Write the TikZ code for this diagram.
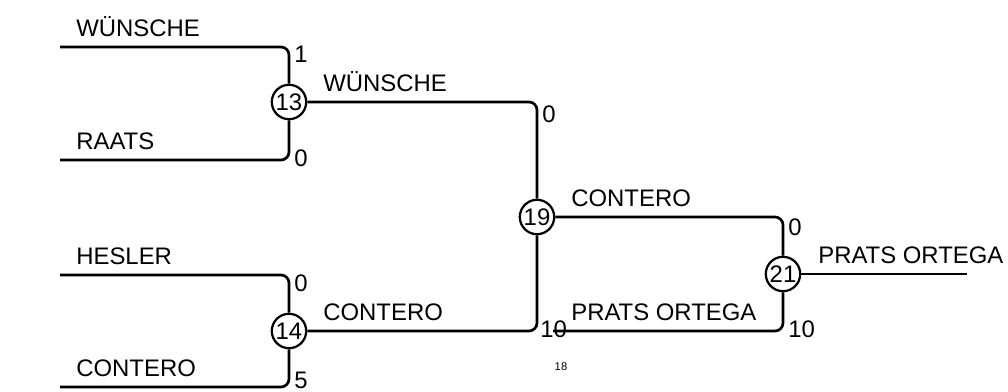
\documentclass[tikz,border=0pt]{standalone}
\usepackage{fontspec}
\setmainfont{Liberation Sans}

\begin{document}
\begin{tikzpicture}[x=0.025cm,y=-0.025cm,line width=1.9pt,
    kamp/.style={circle,draw,fill=white,minimum size=0.86cm,inner sep=0pt,line width=1.6pt,font=\fontsize{17}{19}\selectfont},
    navn/.style={anchor=base west,inner sep=0pt,font=\fontsize{17}{19}\selectfont},
    res/.style={inner sep=0pt,font=\fontsize{17}{19}\selectfont},
    hjorne/.style={rounded corners=0.2cm}]
    \useasboundingbox (0,0) rectangle (1008,392);

    %Kampe
        \node[kamp] (m13) at (289,102) {13};
        \node[kamp] (m14) at (289,331) {14};
        \node[kamp] (m19) at (537,217) {19};
        \node[kamp] (m21) at (783,274) {21};

    %Runde 1
        \coordinate (s1) at (60,47);
        \coordinate (s2) at (60,160);
        \coordinate (s3) at (60,275);
        \coordinate (s4) at (60,387);
        \draw[hjorne] (s1) -| (m13);
        \draw[hjorne] (s2) -| (m13);
        \draw[hjorne] (s3) -| (m14);
        \draw[hjorne] (s4) -| (m14);
        \node[navn] (n1) at (75,37) {WÜNSCHE};
        \node[navn] (n2) at (75,150) {RAATS};
        \node[navn] (n3) at (75,265) {HESLER};
        \node[navn] (n4) at (75,377) {CONTERO};
        \node[res,anchor=north west] (r1) at (293,45) {1};
        \node[res,anchor=west] (r2) at (293,158) {0};
        \node[res,anchor=north west] (r3) at (293,273) {0};
        \node[res,anchor=south west] (r4) at (293,390) {5};

    %Runde 2
        \draw[hjorne] (m13) -| (m19);
        \draw[hjorne] (m14) -| (m19);
        \node[navn] (n5) at (322,92) {WÜNSCHE};
        \node[navn] (n6) at (322,321) {CONTERO};
        \node[res,anchor=north west] (r5) at (541,104) {0};
        \node[res,anchor=west] (r6) at (539,329) {10};
        \node[res,font=\fontsize{8}{9}\selectfont] (r7) at (561,367) {18};

    %Runde 3
        \coordinate (p1) at (553,331);
        \draw[hjorne] (m19) -| (m21);
        \draw[hjorne] (p1) -| (m21);
        \node[navn] (n7) at (570,207) {CONTERO};
        \node[navn] (n8) at (570,321) {PRATS ORTEGA};
        \node[res,anchor=north west] (r8) at (787,217) {0};
        \node[res,anchor=west] (r9) at (787,329) {10};

    %Finale
        \coordinate (f1) at (967,274);
        \draw (m21) -- (f1);
        \node[navn] (n9) at (817,264) {PRATS ORTEGA};

\end{tikzpicture}
\end{document}
